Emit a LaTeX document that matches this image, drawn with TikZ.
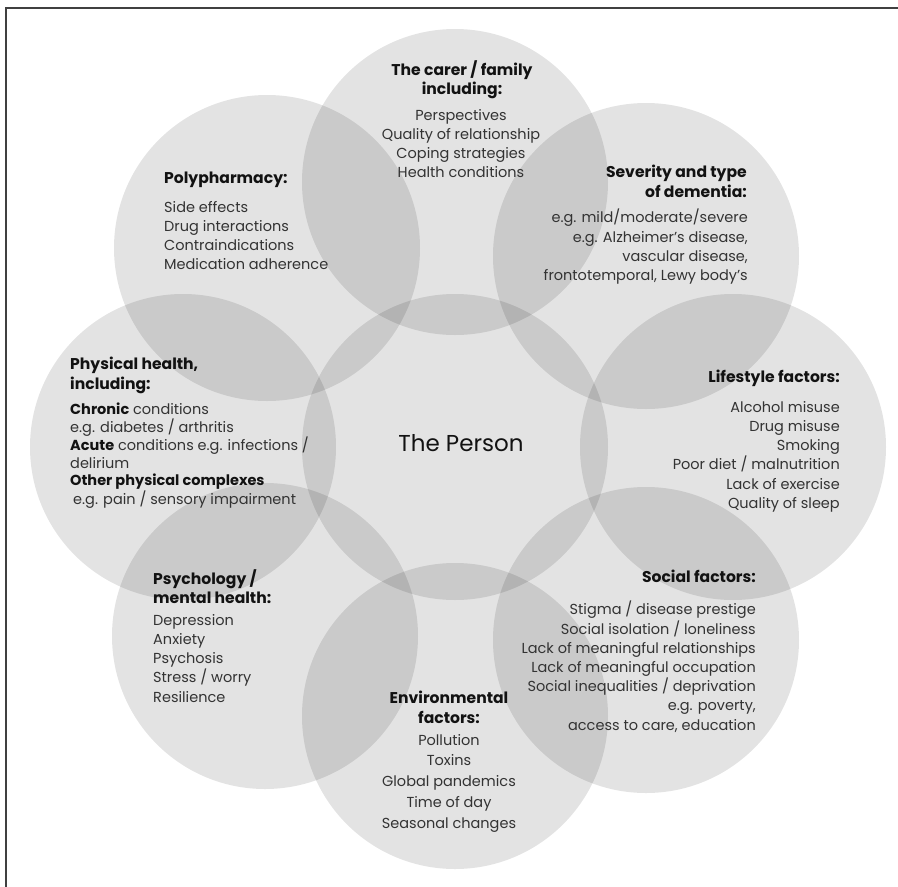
\documentclass[tikz,border=0pt]{standalone}
\usepackage{fontspec}
\setmainfont{Poppins}
\definecolor{titlecol}{HTML}{121212}
\definecolor{itemcol}{HTML}{333333}
\definecolor{framecol}{HTML}{404040}
\begin{document}
\begin{tikzpicture}[x=1pt,y=-1pt,
  bubble/.style={circle,minimum size=306pt,inner sep=0pt,fill=black,fill opacity=0.11,draw=none},
  ttl/.style={inner sep=0pt,text=titlecol,font=\fontsize{15.6}{19.3}\selectfont\bfseries},
  itm/.style={inner sep=0pt,text=itemcol,font=\fontsize{14.5}{19.2}\selectfont},
]
\useasboundingbox (0,0) rectangle (898,887);
\fill[white] (0,0) rectangle (898,887);
\coordinate (fTR) at (898,8);
\coordinate (fTL) at (6,8);
\coordinate (fBL) at (6,887);
\draw[framecol,line width=1.2pt] (fTR) -- (fTL) -- (fBL);
% circles
\node[bubble] (person) at (455,447) {};
\node[bubble] (carer) at (455,182) {};
\node[bubble] (envir) at (455,716) {};
\node[bubble] (physical) at (183,447) {};
\node[bubble] (lifestyle) at (733,447) {};
\node[bubble] (poly) at (267,248) {};
\node[bubble] (severity) at (646,256) {};
\node[bubble] (psych) at (265,636) {};
\node[bubble] (social) at (646,640) {};
% centre text
\node[inner sep=0pt,text=titlecol,font=\fontsize{23}{28}\selectfont] (personlbl) at (461,443) {The Person};
% carer
\node[ttl,align=center,anchor=north] (carerT) at (462,60) {The carer / family\\including:};
\node[itm,align=center,anchor=north] (carerI) at (461,109) {Perspectives\\Quality of relationship\\Coping strategies\\Health conditions};
% polypharmacy
\node[ttl,align=left,anchor=north west] (polyT) at (164,172) {Polypharmacy:};
\node[itm,align=left,anchor=north west] (polyI) at (164,201) {Side effects\\Drug interactions\\Contraindications\\Medication adherence};
% severity
\node[ttl,align=right,anchor=north east] (sevT) at (747,165) {Severity and type\\of dementia:};
\node[itm,align=right,anchor=north east] (sevI) at (748,209) {e.g. mild/moderate/severe\\e.g. Alzheimer’s disease,\\vascular disease,\\frontotemporal, Lewy body’s};
% physical
\node[ttl,align=left,anchor=north west] (physT) at (70,357) {Physical health,\\including:};
\node[itm,align=left,anchor=north west,font=\fontsize{14.5}{17.5}\selectfont] (physI) at (70,403) {{\color{titlecol}\bfseries Chronic} conditions\\e.g. diabetes / arthritis\\{\color{titlecol}\bfseries Acute} conditions e.g. infections /\\delirium\\{\color{titlecol}\bfseries Other physical complexes}\\\hspace*{3pt}e.g. pain / sensory impairment};
% lifestyle
\node[ttl,align=right,anchor=north east] (lifeT) at (840,370) {Lifestyle factors:};
\node[itm,align=right,anchor=north east] (lifeI) at (840,401) {Alcohol misuse\\Drug misuse\\Smoking\\Poor diet / malnutrition\\Lack of exercise\\Quality of sleep};
% psychology
\node[ttl,align=left,anchor=north west] (psyT) at (153,569) {Psychology /\\mental health:};
\node[itm,align=left,anchor=north west] (psyI) at (153,614) {Depression\\Anxiety\\Psychosis\\Stress / worry\\Resilience};
% social
\node[ttl,align=right,anchor=north east] (socT) at (756,570) {Social factors:};
\node[itm,align=right,anchor=north east] (socI) at (756,601) {Stigma / disease prestige\\Social isolation / loneliness\\Lack of meaningful relationships\\Lack of meaningful occupation\\Social inequalities / deprivation\\e.g. poverty,\\access to care, education};
% environmental
\node[ttl,align=center,anchor=north] (envT) at (449,691) {Environmental\\factors:};
\node[itm,align=center,anchor=north,font=\fontsize{14.5}{20.7}\selectfont] (envI) at (449,734) {Pollution\\Toxins\\Global pandemics\\Time of day\\Seasonal changes};
\end{tikzpicture}
\end{document}
